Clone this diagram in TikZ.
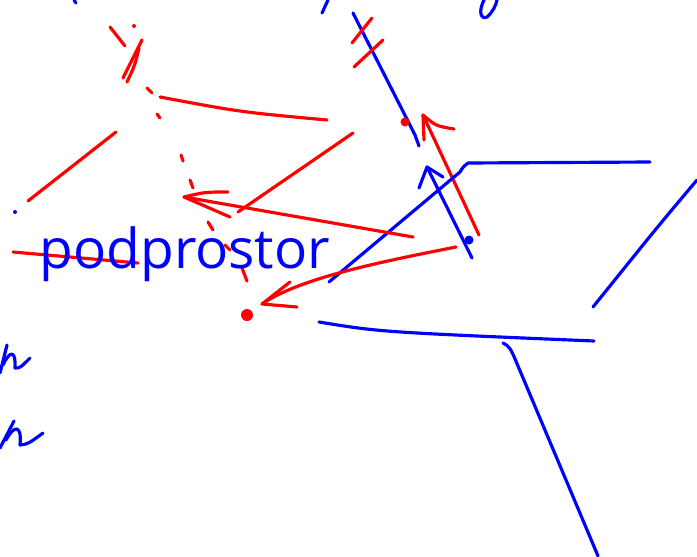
\documentclass[tikz,border=0pt]{standalone}
\usepackage{fontspec}
\setmainfont{Open Sans}
\definecolor{cblue}{HTML}{0000FF}
\definecolor{cred}{HTML}{FF0000}
\tikzset{
  every picture/.style={line width=2.7pt, line cap=round, line join=round},
  bluepen/.style={draw=cblue},
  redpen/.style={draw=cred},
  reddot/.style={fill=cred},
  bluedot/.style={fill=cblue},
  script/.style={font=\fontsize{47}{47}\selectfont, text=cblue, inner sep=0pt},
}

\begin{document}
\begin{tikzpicture}[x=0.03cm, y=-0.03cm]
  \useasboundingbox (0,0) rectangle (697,556);
  % scraps of writing cut off at the edges
  \draw[bluepen] (74,0) -- (76,3);
  \draw[bluepen] (322,13) -- (328,0);
  \draw[bluepen] (484,0) .. controls (478,12) and (481,20) .. (487,17) .. controls (493,12) and (496,5) .. (497,0);
  \draw[bluepen] (0,373) -- (7,345);
  \draw[bluepen] (3,365) .. controls (10,350) and (16,350) .. (15,368) .. controls (20,368) .. (30,358);
  \draw[bluepen] (0,448) -- (14,421);
  \draw[bluepen] (6,440) .. controls (14,425) and (22,424) .. (20,445) .. controls (28,444) .. (43,433);
  \fill[bluedot] (15,212) circle (2);

  % blue line with two ticks
  \draw[bluepen] (353,13) -- (415,135) -- (419,146);
  \draw[redpen] (352,43) -- (372,18);
  \draw[redpen] (354,67) -- (383,40);
  \fill[reddot] (405,122) circle (4.5);

  % the two vectors going up
  \coordinate (rtip) at (423,115);
  \draw[redpen] (479,235) -- (rtip);
  \draw[redpen] (424,140) -- (rtip) .. controls (436,126) .. (454,129);
  \coordinate (btip) at (427,167);
  \draw[bluepen] (472,258) -- (btip);
  \draw[bluepen] (419,188) -- (btip) -- (443,177);
  \fill[bluedot] (469,240) circle (4.5);

  % the plane
  \draw[bluepen] (329,282) -- (460,172) .. controls (463,167) .. (468,163) -- (650,162);
  \draw[bluepen] (593,307) -- (647,240) .. controls (670,212) .. (697,180);
  \draw[bluepen] (319,322) .. controls (380,332) .. (594,341);
  \draw[bluepen] (503,343) .. controls (510,347) .. (518,366) -- (598,556);

  % red lines and projections
  \draw[redpen] (160,97) .. controls (240,112) .. (327,120);
  \draw[redpen] (28,201) -- (116,132);
  \draw[redpen] (238,212) -- (353,133);
  \coordinate (ptip) at (184,197);
  \draw[redpen] (413,237) -- (ptip);
  \draw[redpen] (228,192) .. controls (205,192) .. (ptip) -- (230,217);
  \coordinate (qtip) at (262,304);
  \draw[redpen] (456,247) .. controls (380,262) and (300,278) .. (qtip);
  \draw[redpen] (290,282) -- (qtip) -- (297,307);
  \fill[reddot] (247,315) circle (6);
  \draw[redpen] (13,252) -- (138,263);

  % dotted red line from the top mark
  \draw[redpen] (110,27) -- (125,46);
  \fill[reddot] (134,26) circle (2);
  \draw[redpen] (123,78) -- (142,40);
  \draw[redpen] (127,82) .. controls (135,65) .. (139,48);
  \foreach \ax/\ay/\bx/\by in {147/88/152/93, 157/114/160/118, 181/155/183/161,
    190/180/193/188, 208/222/213/230, 225/245/230/250, 242/268/247/281}
    \draw[redpen] (\ax,\ay) -- (\bx,\by);

  \node[script, anchor=base west] (podprostor) at (38,268) {podprostor};
\end{tikzpicture}
\end{document}
